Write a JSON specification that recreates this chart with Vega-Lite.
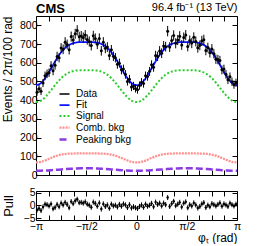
{
"$schema": "https://vega.github.io/schema/vega-lite/v6.json",
"background": "white",
"padding": {"left": 0, "top": 1, "right": 0, "bottom": 0},
"config": {
  "font": "Liberation Sans",
  "view": {"stroke": "black", "strokeWidth": 1},
  "axis": {"domain": false, "grid": false, "labelFont": "Liberation Sans", "labelFontSize": 10.5, "labelColor": "black", "tickColor": "black", "tickSize": -5, "labelPadding": 4, "titleFont": "Liberation Sans", "titleFontWeight": "normal", "titleColor": "black", "labelFlush": false, "labelOverlap": false}
},
"datasets": {
  "pts": [
    {"phi":-3.1102,"n":443,"err":21,"pull":-1.8,"perr":1},
    {"phi":-3.0473,"n":461,"err":21,"pull":-1.2,"perr":1},
    {"phi":-2.9845,"n":448,"err":21,"pull":-2.0,"perr":1},
    {"phi":-2.9217,"n":492,"err":22,"pull":-0.6,"perr":1},
    {"phi":-2.8588,"n":530,"err":23,"pull":0.5,"perr":1},
    {"phi":-2.7960,"n":541,"err":23,"pull":0.3,"perr":1},
    {"phi":-2.7332,"n":547,"err":23,"pull":-0.2,"perr":1},
    {"phi":-2.6704,"n":584,"err":24,"pull":0.6,"perr":1},
    {"phi":-2.6075,"n":557,"err":24,"pull":-1.3,"perr":1},
    {"phi":-2.5447,"n":587,"err":24,"pull":-0.8,"perr":1},
    {"phi":-2.4819,"n":634,"err":25,"pull":0.4,"perr":1},
    {"phi":-2.4190,"n":627,"err":25,"pull":-0.5,"perr":1},
    {"phi":-2.3562,"n":679,"err":26,"pull":0.9,"perr":1},
    {"phi":-2.2934,"n":672,"err":26,"pull":0.2,"perr":1},
    {"phi":-2.2305,"n":710,"err":27,"pull":1.2,"perr":1},
    {"phi":-2.1677,"n":698,"err":26,"pull":0.4,"perr":1},
    {"phi":-2.1049,"n":670,"err":26,"pull":-0.9,"perr":1},
    {"phi":-2.0420,"n":740,"err":27,"pull":1.5,"perr":1},
    {"phi":-1.9792,"n":722,"err":27,"pull":0.7,"perr":1},
    {"phi":-1.9164,"n":755,"err":27,"pull":1.8,"perr":1},
    {"phi":-1.8535,"n":773,"err":28,"pull":2.4,"perr":1},
    {"phi":-1.7907,"n":739,"err":27,"pull":1.1,"perr":1},
    {"phi":-1.7279,"n":743,"err":27,"pull":1.2,"perr":1},
    {"phi":-1.6650,"n":735,"err":27,"pull":0.9,"perr":1},
    {"phi":-1.6022,"n":748,"err":27,"pull":1.4,"perr":1},
    {"phi":-1.5394,"n":724,"err":27,"pull":0.5,"perr":1},
    {"phi":-1.4765,"n":714,"err":27,"pull":0.1,"perr":1},
    {"phi":-1.4137,"n":692,"err":26,"pull":-0.7,"perr":1},
    {"phi":-1.3509,"n":744,"err":27,"pull":1.3,"perr":1},
    {"phi":-1.2881,"n":730,"err":27,"pull":0.8,"perr":1},
    {"phi":-1.2252,"n":699,"err":26,"pull":-0.3,"perr":1},
    {"phi":-1.1624,"n":730,"err":27,"pull":1.0,"perr":1},
    {"phi":-1.0996,"n":664,"err":26,"pull":-1.4,"perr":1},
    {"phi":-1.0367,"n":710,"err":27,"pull":0.6,"perr":1},
    {"phi":-0.9739,"n":677,"err":26,"pull":-0.4,"perr":1},
    {"phi":-0.9111,"n":684,"err":26,"pull":0.2,"perr":1},
    {"phi":-0.8482,"n":639,"err":25,"pull":-1.1,"perr":1},
    {"phi":-0.7854,"n":669,"err":26,"pull":0.5,"perr":1},
    {"phi":-0.7226,"n":635,"err":25,"pull":-0.2,"perr":1},
    {"phi":-0.6597,"n":627,"err":25,"pull":0.1,"perr":1},
    {"phi":-0.5969,"n":592,"err":24,"pull":-0.6,"perr":1},
    {"phi":-0.5341,"n":598,"err":24,"pull":0.4,"perr":1},
    {"phi":-0.4712,"n":562,"err":24,"pull":-0.3,"perr":1},
    {"phi":-0.4084,"n":566,"err":24,"pull":0.6,"perr":1},
    {"phi":-0.3456,"n":538,"err":23,"pull":0.2,"perr":1},
    {"phi":-0.2827,"n":500,"err":22,"pull":-0.8,"perr":1},
    {"phi":-0.2199,"n":512,"err":23,"pull":0.3,"perr":1},
    {"phi":-0.1571,"n":470,"err":22,"pull":-1.0,"perr":1},
    {"phi":-0.0942,"n":476,"err":22,"pull":-0.5,"perr":1},
    {"phi":-0.0314,"n":463,"err":22,"pull":-0.9,"perr":1},
    {"phi":0.0314,"n":456,"err":21,"pull":-1.2,"perr":1},
    {"phi":0.0942,"n":478,"err":22,"pull":-0.4,"perr":1},
    {"phi":0.1571,"n":496,"err":22,"pull":0.2,"perr":1},
    {"phi":0.2199,"n":489,"err":22,"pull":-0.7,"perr":1},
    {"phi":0.2827,"n":530,"err":23,"pull":0.5,"perr":1},
    {"phi":0.3456,"n":527,"err":23,"pull":-0.3,"perr":1},
    {"phi":0.4084,"n":554,"err":24,"pull":0.1,"perr":1},
    {"phi":0.4712,"n":589,"err":24,"pull":0.8,"perr":1},
    {"phi":0.5341,"n":576,"err":24,"pull":-0.5,"perr":1},
    {"phi":0.5969,"n":639,"err":25,"pull":1.3,"perr":1},
    {"phi":0.6597,"n":634,"err":25,"pull":0.4,"perr":1},
    {"phi":0.7226,"n":663,"err":26,"pull":0.9,"perr":1},
    {"phi":0.7854,"n":651,"err":26,"pull":-0.2,"perr":1},
    {"phi":0.8482,"n":690,"err":26,"pull":0.9,"perr":1},
    {"phi":0.9111,"n":686,"err":26,"pull":0.3,"perr":1},
    {"phi":0.9739,"n":769,"err":28,"pull":3.1,"perr":1},
    {"phi":1.0367,"n":684,"err":26,"pull":-0.4,"perr":1},
    {"phi":1.0996,"n":719,"err":27,"pull":0.7,"perr":1},
    {"phi":1.1624,"n":746,"err":27,"pull":1.6,"perr":1},
    {"phi":1.2252,"n":704,"err":27,"pull":-0.1,"perr":1},
    {"phi":1.2881,"n":722,"err":27,"pull":0.5,"perr":1},
    {"phi":1.3509,"n":742,"err":27,"pull":1.2,"perr":1},
    {"phi":1.4137,"n":695,"err":26,"pull":-0.6,"perr":1},
    {"phi":1.4765,"n":735,"err":27,"pull":0.9,"perr":1},
    {"phi":1.5394,"n":748,"err":27,"pull":1.4,"perr":1},
    {"phi":1.6022,"n":687,"err":26,"pull":-0.9,"perr":1},
    {"phi":1.6650,"n":719,"err":27,"pull":0.3,"perr":1},
    {"phi":1.7279,"n":705,"err":27,"pull":-0.2,"perr":1},
    {"phi":1.7907,"n":736,"err":27,"pull":1.0,"perr":1},
    {"phi":1.8535,"n":714,"err":27,"pull":0.2,"perr":1},
    {"phi":1.9164,"n":680,"err":26,"pull":-1.0,"perr":1},
    {"phi":1.9792,"n":693,"err":26,"pull":-0.4,"perr":1},
    {"phi":2.0420,"n":717,"err":27,"pull":0.6,"perr":1},
    {"phi":2.1049,"n":723,"err":27,"pull":1.1,"perr":1},
    {"phi":2.1677,"n":666,"err":26,"pull":-0.8,"perr":1},
    {"phi":2.2305,"n":681,"err":26,"pull":0.1,"perr":1},
    {"phi":2.2934,"n":654,"err":26,"pull":-0.5,"perr":1},
    {"phi":2.3562,"n":674,"err":26,"pull":0.7,"perr":1},
    {"phi":2.4190,"n":648,"err":25,"pull":0.3,"perr":1},
    {"phi":2.4819,"n":619,"err":25,"pull":-0.2,"perr":1},
    {"phi":2.5447,"n":617,"err":25,"pull":0.4,"perr":1},
    {"phi":2.6075,"n":612,"err":25,"pull":1.0,"perr":1},
    {"phi":2.6704,"n":562,"err":24,"pull":-0.3,"perr":1},
    {"phi":2.7332,"n":566,"err":24,"pull":0.6,"perr":1},
    {"phi":2.7960,"n":538,"err":23,"pull":0.2,"perr":1},
    {"phi":2.8588,"n":509,"err":23,"pull":-0.4,"perr":1},
    {"phi":2.9217,"n":525,"err":23,"pull":0.9,"perr":1},
    {"phi":2.9845,"n":499,"err":22,"pull":0.3,"perr":1},
    {"phi":3.0473,"n":483,"err":22,"pull":-0.2,"perr":1},
    {"phi":3.1102,"n":493,"err":22,"pull":0.5,"perr":1}
  ],
  "curves": [
    {"phi":-3.1416,"Fit":480,"Signal":390,"Comb":67,"Peaking":23},
    {"phi":-2.9845,"Fit":491.9,"Signal":398.2,"Comb":70.4,"Peaking":23.3},
    {"phi":-2.8274,"Fit":524.6,"Signal":420.9,"Comb":79.5,"Peaking":24.2},
    {"phi":-2.6704,"Fit":569.5,"Signal":452.8,"Comb":91.0,"Peaking":25.7},
    {"phi":-2.5133,"Fit":616.2,"Signal":487.2,"Comb":101.5,"Peaking":27.5},
    {"phi":-2.3562,"Fit":656.0,"Signal":517.5,"Comb":109.0,"Peaking":29.5},
    {"phi":-2.1991,"Fit":684.2,"Signal":539.7,"Comb":113.0,"Peaking":31.5},
    {"phi":-2.0420,"Fit":700.7,"Signal":552.8,"Comb":114.6,"Peaking":33.3},
    {"phi":-1.8850,"Fit":708.3,"Signal":558.5,"Comb":115.0,"Peaking":34.8},
    {"phi":-1.7279,"Fit":710.6,"Signal":559.9,"Comb":115.0,"Peaking":35.7},
    {"phi":-1.5708,"Fit":711.0,"Signal":560.0,"Comb":115.0,"Peaking":36.0},
    {"phi":-1.4137,"Fit":710.6,"Signal":559.9,"Comb":115.0,"Peaking":35.7},
    {"phi":-1.2566,"Fit":708.3,"Signal":558.5,"Comb":115.0,"Peaking":34.8},
    {"phi":-1.0996,"Fit":700.7,"Signal":552.8,"Comb":114.6,"Peaking":33.3},
    {"phi":-0.9425,"Fit":684.2,"Signal":539.7,"Comb":113.0,"Peaking":31.5},
    {"phi":-0.7854,"Fit":656.0,"Signal":517.5,"Comb":109.0,"Peaking":29.5},
    {"phi":-0.6283,"Fit":616.2,"Signal":487.2,"Comb":101.5,"Peaking":27.5},
    {"phi":-0.4712,"Fit":569.5,"Signal":452.8,"Comb":91.0,"Peaking":25.7},
    {"phi":-0.3142,"Fit":524.6,"Signal":420.9,"Comb":79.5,"Peaking":24.2},
    {"phi":-0.1571,"Fit":491.9,"Signal":398.2,"Comb":70.4,"Peaking":23.3},
    {"phi":0.0,"Fit":480,"Signal":390,"Comb":67,"Peaking":23},
    {"phi":0.1571,"Fit":491.9,"Signal":398.2,"Comb":70.4,"Peaking":23.3},
    {"phi":0.3142,"Fit":524.6,"Signal":420.9,"Comb":79.5,"Peaking":24.2},
    {"phi":0.4712,"Fit":569.5,"Signal":452.8,"Comb":91.0,"Peaking":25.7},
    {"phi":0.6283,"Fit":616.2,"Signal":487.2,"Comb":101.5,"Peaking":27.5},
    {"phi":0.7854,"Fit":656.0,"Signal":517.5,"Comb":109.0,"Peaking":29.5},
    {"phi":0.9425,"Fit":684.2,"Signal":539.7,"Comb":113.0,"Peaking":31.5},
    {"phi":1.0996,"Fit":700.7,"Signal":552.8,"Comb":114.6,"Peaking":33.3},
    {"phi":1.2566,"Fit":708.3,"Signal":558.5,"Comb":115.0,"Peaking":34.8},
    {"phi":1.4137,"Fit":710.6,"Signal":559.9,"Comb":115.0,"Peaking":35.7},
    {"phi":1.5708,"Fit":711.0,"Signal":560.0,"Comb":115.0,"Peaking":36.0},
    {"phi":1.7279,"Fit":710.6,"Signal":559.9,"Comb":115.0,"Peaking":35.7},
    {"phi":1.8850,"Fit":708.3,"Signal":558.5,"Comb":115.0,"Peaking":34.8},
    {"phi":2.0420,"Fit":700.7,"Signal":552.8,"Comb":114.6,"Peaking":33.3},
    {"phi":2.1991,"Fit":684.2,"Signal":539.7,"Comb":113.0,"Peaking":31.5},
    {"phi":2.3562,"Fit":656.0,"Signal":517.5,"Comb":109.0,"Peaking":29.5},
    {"phi":2.5133,"Fit":616.2,"Signal":487.2,"Comb":101.5,"Peaking":27.5},
    {"phi":2.6704,"Fit":569.5,"Signal":452.8,"Comb":91.0,"Peaking":25.7},
    {"phi":2.8274,"Fit":524.6,"Signal":420.9,"Comb":79.5,"Peaking":24.2},
    {"phi":2.9845,"Fit":491.9,"Signal":398.2,"Comb":70.4,"Peaking":23.3},
    {"phi":3.1416,"Fit":480,"Signal":390,"Comb":67,"Peaking":23}
  ]
},
"spacing": 6,
"vconcat": [
  {
    "width": 201,
    "height": 159,
    "title": {"text": "CMS", "anchor": "start", "frame": "group", "fontSize": 13, "fontWeight": "bold", "font": "Liberation Sans", "color": "black", "offset": -14},
    "layer": [
      {
        "data": {"name": "curves"},
        "transform": [{"fold": ["Fit", "Signal", "Comb", "Peaking"], "as": ["series", "val"]}],
        "mark": {"type": "line", "interpolate": "monotone"},
        "encoding": {
          "x": {"field": "phi", "type": "quantitative", "scale": {"domain": [-3.14159, 3.14159], "nice": false, "zero": false}, "axis": null},
          "y": {"field": "val", "type": "quantitative", "scale": {"domain": [0, 850], "nice": false}, "axis": null},
          "color": {"field": "series", "type": "nominal",
            "scale": {"domain": ["Data", "Fit", "Signal", "Comb", "Peaking"], "range": ["black", "#0a14ff", "#2ccc2c", "#ff8f8f", "#8a3be0"]},
            "legend": {"orient": "none", "legendX": 22, "legendY": 72, "title": null, "symbolType": "stroke", "symbolSize": 100, "labelFontSize": 10, "labelFont": "Liberation Sans", "labelColor": "black", "rowPadding": 0, "labelOffset": 5, "symbolOffset": 0,
              "labelExpr": "datum.label == 'Comb' ? 'Comb. bkg' : datum.label == 'Peaking' ? 'Peaking bkg' : datum.label"}},
          "strokeDash": {"field": "series", "type": "nominal",
            "scale": {"domain": ["Data", "Fit", "Signal", "Comb", "Peaking"], "range": [[1, 0], [1, 0], [2, 2], [2, 1], [7, 3]]}},
          "strokeWidth": {"field": "series", "type": "nominal",
            "scale": {"domain": ["Data", "Fit", "Signal", "Comb", "Peaking"], "range": [1.5, 2.5, 2, 1, 1.5]}}
        }
      },
      {
        "data": {"name": "pts"},
        "mark": {"type": "errorbar", "color": "black", "thickness": 1},
        "encoding": {
          "x": {"field": "phi", "type": "quantitative", "scale": {"domain": [-3.14159, 3.14159], "nice": false, "zero": false},
            "axis": {"orient": "bottom", "values": [-3.14159, -2.74889, -2.35619, -1.9635, -1.5708, -1.1781, -0.7854, -0.3927, 0, 0.3927, 0.7854, 1.1781, 1.5708, 1.9635, 2.35619, 2.74889, 3.14159], "labels": false, "title": null}},
          "y": {"field": "n", "type": "quantitative", "scale": {"domain": [0, 850], "nice": false},
            "axis": {"orient": "left", "values": [0, 100, 200, 300, 400, 500, 600, 700, 800], "title": "Events / 2π/100 rad", "titleAnchor": "end", "titleFontSize": 12, "titlePadding": 5}},
          "yError": {"field": "err"}
        }
      },
      {
        "data": {"name": "pts"},
        "mark": {"type": "point", "filled": true, "size": 9, "opacity": 1, "color": "black"},
        "encoding": {
          "x": {"field": "phi", "type": "quantitative", "scale": {"domain": [-3.14159, 3.14159], "nice": false, "zero": false},
            "axis": {"orient": "top", "values": [-3.14159, -2.74889, -2.35619, -1.9635, -1.5708, -1.1781, -0.7854, -0.3927, 0, 0.3927, 0.7854, 1.1781, 1.5708, 1.9635, 2.35619, 2.74889, 3.14159], "labels": false, "title": "96.4 fb⁻¹ (13 TeV)", "titleAnchor": "end", "titleFontSize": 11, "titlePadding": 3}},
          "y": {"field": "n", "type": "quantitative", "scale": {"domain": [0, 850], "nice": false},
            "axis": {"orient": "right", "values": [0, 100, 200, 300, 400, 500, 600, 700, 800], "labels": false, "title": null}}
        }
      }
    ],
    "resolve": {"axis": {"x": "independent", "y": "independent"}}
  },
  {
    "width": 201,
    "height": 29,
    "layer": [
      {
        "data": {"name": "pts"},
        "mark": {"type": "errorbar", "color": "black", "thickness": 1},
        "encoding": {
          "x": {"field": "phi", "type": "quantitative", "scale": {"domain": [-3.14159, 3.14159], "nice": false, "zero": false},
            "axis": {"orient": "bottom", "values": [-3.14159, -2.74889, -2.35619, -1.9635, -1.5708, -1.1781, -0.7854, -0.3927, 0, 0.3927, 0.7854, 1.1781, 1.5708, 1.9635, 2.35619, 2.74889, 3.14159], "labelPadding": 6,
              "labelExpr": "abs(datum.value) < 0.01 ? '0' : abs(datum.value + 3.14159) < 0.01 ? '−π' : abs(datum.value - 3.14159) < 0.01 ? 'π' : abs(datum.value + 1.5708) < 0.01 ? '−π/2' : abs(datum.value - 1.5708) < 0.01 ? 'π/2' : ''",
              "title": "φₜ (rad)", "titleAnchor": "end", "titleFontSize": 12, "titlePadding": 1}},
          "y": {"field": "pull", "type": "quantitative", "scale": {"domain": [-5.7, 5.65], "nice": false, "zero": false},
            "axis": {"orient": "left", "values": [-5, 0, 5], "labelPadding": 6, "title": "Pull", "titleFontSize": 13, "titlePadding": 8}},
          "yError": {"field": "perr"}
        }
      },
      {
        "data": {"name": "pts"},
        "mark": {"type": "point", "filled": true, "size": 6, "opacity": 1, "color": "black"},
        "encoding": {
          "x": {"field": "phi", "type": "quantitative", "scale": {"domain": [-3.14159, 3.14159], "nice": false, "zero": false},
            "axis": {"orient": "top", "values": [-3.14159, -2.74889, -2.35619, -1.9635, -1.5708, -1.1781, -0.7854, -0.3927, 0, 0.3927, 0.7854, 1.1781, 1.5708, 1.9635, 2.35619, 2.74889, 3.14159], "labels": false, "title": null}},
          "y": {"field": "pull", "type": "quantitative", "scale": {"domain": [-5.7, 5.65], "nice": false, "zero": false},
            "axis": {"orient": "right", "values": [-5, 0, 5], "labels": false, "title": null}}
        }
      }
    ],
    "resolve": {"axis": {"x": "independent", "y": "independent"}}
  }
]
}
